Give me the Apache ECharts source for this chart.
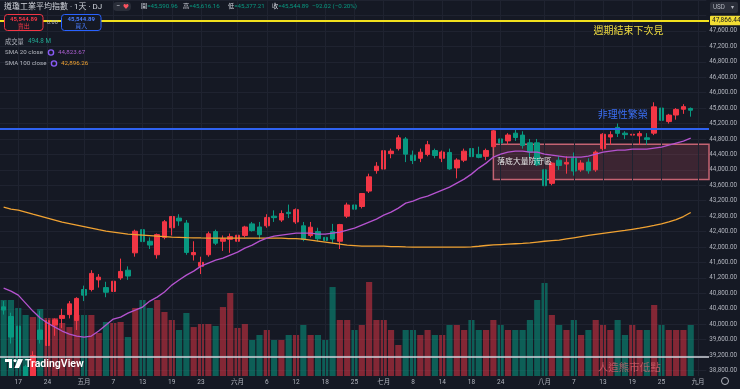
<!DOCTYPE html>
<html><head><meta charset="utf-8">
<script src="https://cdn.jsdelivr.net/npm/echarts@6/dist/echarts.min.js"></script>
<style>html,body{margin:0;padding:0;background:#151924;}#c{width:740px;height:389px;}</style>
</head><body><div id="c"></div>
<script>
// ---- data ----
const dates = ['04-15','04-16','04-17','04-21','04-22','04-23','04-24','04-25','04-28','04-29','04-30',
'05-01','05-02','05-05','05-06','05-07','05-08','05-09','05-12','05-13','05-14','05-15','05-16','05-19','05-20','05-21','05-22','05-23','05-27','05-28','05-29','05-30',
'06-02','06-03','06-04','06-05','06-06','06-09','06-10','06-11','06-12','06-13','06-16','06-17','06-18','06-20','06-23','06-24','06-25','06-26','06-27','06-30',
'07-01','07-02','07-03','07-07','07-08','07-09','07-10','07-11','07-14','07-15','07-16','07-17','07-18','07-21','07-22','07-23','07-24','07-25','07-28','07-29','07-30','07-31',
'08-01','08-04','08-05','08-06','08-07','08-08','08-11','08-12','08-13','08-14','08-15','08-18','08-19','08-20','08-21','08-22','08-25','08-26','08-27','08-28','08-29',
'09-02','09-03'];
const opens = [40450,40200,39950,38900,38450,39850,39450,39980,40150,40250,
40100,40900,40900,41150,40950,40850,41200,41400,41850,42450,
42150,41800,42250,42500,42750,42620,41800,41500,41800,42400,
42150,42200,42150,42300,42600,42520,42550,42800,42700,42900,
42650,42550,42300,42400,42250,42400,42150,42800,43090,43050,
43450,43980,44020,44420,44550,44800,44380,44300,44400,44500,
44300,44450,44050,44250,44550,44400,44350,44600,44800,44750,
44950,44900,44700,44700,44000,43650,44250,44150,44300,44000,
44200,44000,44550,44850,45100,44950,44900,44880,44830,44950,
45600,45250,45420,45570,45590.96];
const highs = [40600,40300,40050,38950,39300,40350,40150,40150,40400,40600,
40700,41000,41400,41300,41100,41300,41700,41500,42450,42550,
42250,42350,42700,42800,42850,42700,42150,41750,42400,42450,
42300,42350,42400,42550,42650,42650,42850,42950,42950,43100,
43000,42650,42650,42500,42450,42600,42600,43150,43200,43400,
43900,44200,44600,44550,44900,44850,44500,44550,44750,44550,
44500,44550,44300,44550,44650,44600,44550,45050,45000,44950,
45050,45000,44800,44800,44050,44200,44350,44350,44450,44250,
44300,44500,44950,45000,45200,45000,45100,45000,44950,45750,
45650,45450,45600,45700,45616.16];
const lows = [40250,39500,39100,37950,38300,39500,39400,39700,39900,40150,
39850,40600,40850,40950,40700,40800,41150,41150,41750,42050,
41950,41700,42200,42300,42550,41800,41650,41300,41750,42050,
41900,41850,41950,42250,42400,42200,42500,42650,42650,42750,
42600,42150,42250,42150,42100,42100,41950,42750,42900,43000,
43400,43900,43950,44300,44500,44200,44150,44200,44350,44300,
44200,44000,43780,44200,44300,44300,44250,44550,44650,44650,
44750,44550,44300,44100,43350,43600,44000,43900,43850,43950,
43900,43950,44500,44650,44850,44800,44800,44650,44650,44900,
45250,45200,45300,45450,45377.21];
const closes = [40368,39669,39142,38170,39187,39607,40093,40114,40228,40528,
40669,40753,41317,41219,40829,41114,41368,41249,42410,42141,
42051,42323,42655,42792,42677,41860,41859,41603,42343,42099,
42216,42270,42306,42520,42427,42320,42763,42762,42867,42866,
42968,42198,42515,42215,42172,42207,42582,43089,42982,43387,
43819,44095,44495,44485,44829,44406,44241,44458,44651,44372,
44460,44023,44254,44484,44342,44323,44502,45010,44694,44902,
44838,44633,44461,44131,43589,44174,44112,44193,43969,44176,
43975,44459,44922,44911,44946,44912,44922,44938,44786,45632,
45282,45418,45565,45637,45544.89];
const volumes = [737,737,660,592,572,650,563,563,514,475,
592,592,592,417,524,514,524,378,660,737,
660,737,621,543,446,611,475,504,504,485,
669,805,466,504,349,398,446,349,349,398,
398,495,398,398,349,863,543,543,446,495,
912,543,543,446,301,446,446,398,446,398,
398,495,495,446,543,446,446,543,495,446,
446,446,543,737,902,592,495,446,543,398,
446,543,495,446,543,398,495,446,446,689,
495,446,446,446,494.8];
const sma20 = [40937,40859,40755,40548,40341,40160,40031,39927,39824,39746,
39694,39668,39694,39824,39979,40134,40186,40289,40367,40444,
40600,40703,40833,41014,41144,41273,41377,41506,41584,41662,
41713,41791,41869,41972,42050,42153,42231,42283,42309,42335,
42361,42361,42361,42335,42335,42361,42387,42438,42490,42568,
42646,42723,42827,42905,43008,43138,43190,43267,43319,43397,
43475,43552,43656,43760,43889,44045,44174,44330,44408,44459,
44485,44485,44459,44459,44408,44382,44356,44330,44330,44330,
44356,44408,44459,44485,44511,44511,44537,44537,44537,44563,
44589,44640,44692,44744,44823.67];
const sma100 = [43035,42983,42957,42905,42853,42802,42750,42698,42646,42607,
42568,42529,42490,42451,42413,42387,42361,42335,42322,42309,
42296,42283,42270,42257,42250,42244,42240,42236,42233,42231,
42231,42231,42231,42231,42231,42231,42231,42231,42231,42218,
42218,42205,42179,42153,42127,42102,42076,42050,42037,42024,
42024,42024,42024,42011,42011,42005,42000,41998,41998,41998,
41998,41998,41998,41998,42005,42020,42040,42055,42065,42075,
42085,42095,42110,42130,42150,42165,42180,42210,42240,42270,
42300,42330,42355,42380,42405,42430,42460,42490,42525,42560,
42600,42650,42710,42790,42896.26];
const tickDates = ['04-17','04-24','05-01','05-07','05-13','05-19','05-23','06-02','06-06','06-12','06-18','06-25','07-01','07-08','07-14','07-18','07-24','08-01','08-07','08-13','08-19','08-25','09-02'];
const tickTexts = ['17','24','五月','7','13','19','23','六月','6','12','18','25','七月','8','14','18','24','八月','7','13','19','25','九月'];
const priceMin = 38800, priceMax = 48400, priceStep = 400;
const resistance = 47866.44, bubbleLine = 45055, bearLow = 39150;
const zoneTop = 44660, zoneBottom = 43752, zoneStart = '07-23';
const lastVolText = '494.8 M';

// ---- chart ----
const FF = 'Roboto, "Noto Sans CJK TC", sans-serif';
const CJK = '"Noto Sans CJK TC", sans-serif';
const BG = '#151924', GRID = '#1f2330', AX = '#b2b5be';
const UP = '#F23645', DOWN = '#089981';
const UPV = 'rgba(242,54,69,0.5)', DOWNV = 'rgba(8,153,129,0.55)';
const IDX0 = -2;
const catCount = dates.length;
const GL = -4.42, GR = 31, PANE_BOTTOM = 13;
const pxPerPt = 0.0386;
const y0Min = priceMax - (389 - PANE_BOTTOM) / pxPerPt;

const candleData = opens.map((o, i) => [o, closes[i], lows[i], highs[i]]);
const volData = volumes.map((v, i) => ({value: v, itemStyle: {color: closes[i] >= opens[i] ? UPV : DOWNV}}));
const idxOf = d => dates.indexOf(d) + IDX0;
const vMin = IDX0 - 0.5, vMax = IDX0 + catCount - 0.5;
const fmt = v => v.toLocaleString('en-US', {minimumFractionDigits: 2, maximumFractionDigits: 2});

function tag(val, text, bg, fg) {
  return {yAxis: val, lineStyle: {opacity: 0}, label: {show: true, position: 'end', distance: 1, formatter: text,
    backgroundColor: bg, color: fg, padding: [2, 3, 1, 2], fontSize: 6.5, fontFamily: FF, borderRadius: 1}};
}
function note(x, y, text, color, size) {
  return {coord: [x, y], symbol: 'circle', symbolSize: 0, value: 0,
    label: {show: true, position: [0, 0], align: 'left', verticalAlign: 'middle', formatter: text, color: color,
      fontSize: size, fontFamily: CJK}};
}
const last = closes.length - 1;
const T = (x, y, text, fill, size, extra) => Object.assign({type: 'text', x: x, y: y, z: 100,
  style: Object.assign({text: text, fill: fill, font: size + 'px ' + FF, verticalAlign: 'middle'}, extra || {})});
const KV = (x, k, v) => ({type: 'text', x: x, y: 6.5, z: 100, style: {text: '{k|' + k + '}{v|' + v + '}', verticalAlign: 'middle',
  rich: {k: {fill: '#d1d4dc', font: '6.2px ' + FF}, v: {fill: DOWN, font: '6.2px ' + FF}}}});

const option = {
  backgroundColor: BG,
  animation: false,
  grid: [
    {left: GL, right: GR, top: 0, bottom: PANE_BOTTOM},
    {left: GL, right: GR, top: 0, height: (priceMax - priceMin) * pxPerPt},
    {left: GL, right: GR, top: 276, bottom: PANE_BOTTOM}
  ],
  xAxis: [
    {type: 'category', gridIndex: 0, data: dates, boundaryGap: true, z: 20,
      axisLine: {show: false}, axisTick: {show: false}, splitLine: {show: false},
      axisLabel: {interval: (i, v) => tickDates.indexOf(v) >= 0, formatter: v => tickTexts[tickDates.indexOf(v)],
        color: AX, fontSize: 6.5, fontFamily: FF, margin: 3}},
    {type: 'value', gridIndex: 0, min: vMin, max: vMax, show: false},
    {type: 'category', gridIndex: 1, data: dates, show: false},
    {type: 'category', gridIndex: 2, data: dates, show: false}
  ],
  yAxis: [
    {type: 'value', gridIndex: 0, min: y0Min, max: priceMax, show: false},
    {type: 'value', gridIndex: 1, position: 'right', min: priceMin, max: priceMax, interval: priceStep,
      axisLine: {show: false}, axisTick: {show: false},
      splitLine: {show: true, lineStyle: {color: GRID, width: 1}},
      axisLabel: {color: AX, fontSize: 6.3, fontFamily: FF, margin: 3,
        formatter: v => (v > 47800 ? '' : fmt(v))}},
    {type: 'value', gridIndex: 2, min: 0, max: 970, show: false}
  ],
  series: [
    {type: 'line', xAxisIndex: 1, yAxisIndex: 0, data: [], z: 1, silent: true,
      markLine: {symbol: ['none', 'none'], silent: true, label: {show: false},
        lineStyle: {color: GRID, width: 1, type: 'solid'},
        data: tickDates.map(d => ({xAxis: idxOf(d)}))}},
    {type: 'bar', xAxisIndex: 3, yAxisIndex: 2, data: volData, barWidth: '84%', z: 2,
      markLine: {symbol: ['none', 'none'], silent: true, data: [tag(volumes[last], lastVolText, '#16a085', '#ffffff')]}},
    {type: 'line', xAxisIndex: 1, yAxisIndex: 0, data: [], z: 3, silent: true,
      markArea: {silent: true, itemStyle: {color: 'rgba(200,80,100,0.22)', borderColor: '#c46372', borderWidth: 1.5},
        data: [[{xAxis: idxOf(zoneStart), yAxis: zoneTop}, {xAxis: vMax, yAxis: zoneBottom}]]},
      markLine: {symbol: ['none', 'none'], silent: true, label: {show: false},
        data: [
          {yAxis: bubbleLine, lineStyle: {color: '#2f62f0', width: 2, type: 'solid'}},
          {yAxis: bearLow, lineStyle: {color: '#d1d4dc', width: 1.5, type: 'solid'}}
        ]}},
    {type: 'candlestick', xAxisIndex: 0, yAxisIndex: 0, data: candleData, barWidth: 5, z: 4, clip: true,
      itemStyle: {color: UP, color0: DOWN, borderColor: UP, borderColor0: DOWN, borderWidth: 1}},
    {type: 'line', xAxisIndex: 0, yAxisIndex: 0, data: sma100, showSymbol: false, z: 5, clip: true,
      lineStyle: {color: '#f0a232', width: 1.3}},
    {type: 'line', xAxisIndex: 0, yAxisIndex: 0, data: sma20, showSymbol: false, z: 5, clip: true,
      lineStyle: {color: '#b553cf', width: 1.3}},
    {type: 'line', xAxisIndex: 1, yAxisIndex: 0, data: [], z: 6, silent: true,
      markLine: {symbol: ['none', 'none'], silent: true,
        data: [
          Object.assign(tag(resistance, fmt(resistance), '#f2dd34', '#131722'), {lineStyle: {color: '#f2e11e', width: 2, type: 'solid'}}),
          tag(closes[last], fmt(closes[last]), '#089981', '#ffffff'),
          tag(sma20[last], fmt(sma20[last]), '#a94fc6', '#ffffff'),
          tag(sma100[last], fmt(sma100[last]), '#f5a128', '#131722')
        ]},
      markPoint: {silent: true, data: [
        note(idxOf('08-19') - 5.3, 47623, '週期結束下次見', '#ecd940', 10),
        note(idxOf('08-19') - 4.73, 45447, '非理性繁榮', '#3b6ef2', 10),
        note(idxOf('07-23') + 0.54, 44229, '落底大量防守區', '#e6e6e6', 7.8),
        note(idxOf('08-19') - 4.73, 38892, '人造熊市低點', 'rgba(226,104,116,0.7)', 10.5)
      ]}}
  ],
  graphic: [
    {type: 'rect', z: 10, silent: true, shape: {x: 0, y: 389 - PANE_BOTTOM, width: 740, height: PANE_BOTTOM}, style: {fill: BG}},
    T(4, 6.5, '道瓊工業平均指數 · 1天 · DJ', '#d1d4dc', 8),
    {type: 'rect', z: 100, shape: {x: 113, y: 2, width: 18, height: 9, r: 4}, style: {fill: '#2a2e39'}},
    T(116, 6.5, '−', '#d1d4dc', 7),
    T(123, 6.5, '♥', '#f7525f', 6),
    KV(141, '開', '=45,590.96'),
    KV(183, '高', '=45,616.16'),
    KV(228, '低', '=45,377.21'),
    KV(272, '收', '=45,544.89'),
    T(312, 6.5, '−92.02 (−0.20%)', DOWN, 6.2),
    {type: 'rect', z: 100, shape: {x: 4.5, y: 14.5, width: 38.5, height: 16, r: 3}, style: {fill: BG, stroke: UP, lineWidth: 1}},
    T(23.7, 19.5, '45,544.89', UP, 6, {font: 'bold 6px ' + FF, align: 'center'}),
    T(23.7, 26.2, '賣出', UP, 6, {font: '6px ' + CJK, align: 'center'}),
    T(47, 23, '0.00', '#b2b5be', 5.5),
    {type: 'rect', z: 100, shape: {x: 61.5, y: 14.5, width: 39.5, height: 16, r: 3}, style: {fill: BG, stroke: '#2962ff', lineWidth: 1}},
    T(81.2, 19.5, '45,544.89', '#4a7dff', 6, {font: 'bold 6px ' + FF, align: 'center'}),
    T(81.2, 26.2, '買入', '#4a7dff', 6, {font: '6px ' + CJK, align: 'center'}),
    T(5, 41.5, '成交量', '#b2b5be', 6.3, {font: '6.3px ' + CJK}),
    T(28, 41.5, lastVolText, '#22ab94', 6.3),
    T(5, 52.5, 'SMA 20 close', '#b2b5be', 6.2),
    {type: 'circle', z: 100, shape: {cx: 51, cy: 52.5, r: 2.6}, style: {fill: 'none', stroke: '#8a5cf6', lineWidth: 1.4}},
    T(58, 52.5, fmt(sma20[last]), '#ab5fd0', 6.2),
    T(5, 63.5, 'SMA 100 close', '#b2b5be', 6.2),
    {type: 'circle', z: 100, shape: {cx: 54, cy: 63.5, r: 2.6}, style: {fill: 'none', stroke: '#8a5cf6', lineWidth: 1.4}},
    T(61, 63.5, fmt(sma100[last]), '#f0a232', 6.2),
    {type: 'rect', z: 100, shape: {x: 710, y: 2, width: 28, height: 11, r: 2}, style: {fill: '#2a2e39'}},
    T(713, 7.5, 'USD', '#b2b5be', 6.3),
    T(731, 7.5, '▾', '#b2b5be', 6),
    {type: 'rect', z: 100, shape: {x: 5, y: 359, width: 7, height: 3}, style: {fill: '#ffffff'}},
    {type: 'rect', z: 100, shape: {x: 9, y: 359, width: 3, height: 9}, style: {fill: '#ffffff'}},
    {type: 'circle', z: 100, shape: {cx: 15, cy: 360.6, r: 1.6}, style: {fill: '#ffffff'}},
    {type: 'polygon', z: 100, shape: {points: [[18, 359], [23, 359], [19, 368], [14.5, 368]]}, style: {fill: '#ffffff'}},
    T(25, 364, 'TradingView', '#ffffff', 10.5, {font: '600 10.5px ' + FF}),
    {type: 'circle', z: 100, shape: {cx: 725, cy: 381, r: 3.5}, style: {fill: 'none', stroke: '#b2b5be', lineWidth: 1}}
  ]
};
const chart = echarts.init(document.getElementById('c'), null, {renderer: 'canvas', width: 740, height: 389});
chart.setOption(option);
</script></body></html>
